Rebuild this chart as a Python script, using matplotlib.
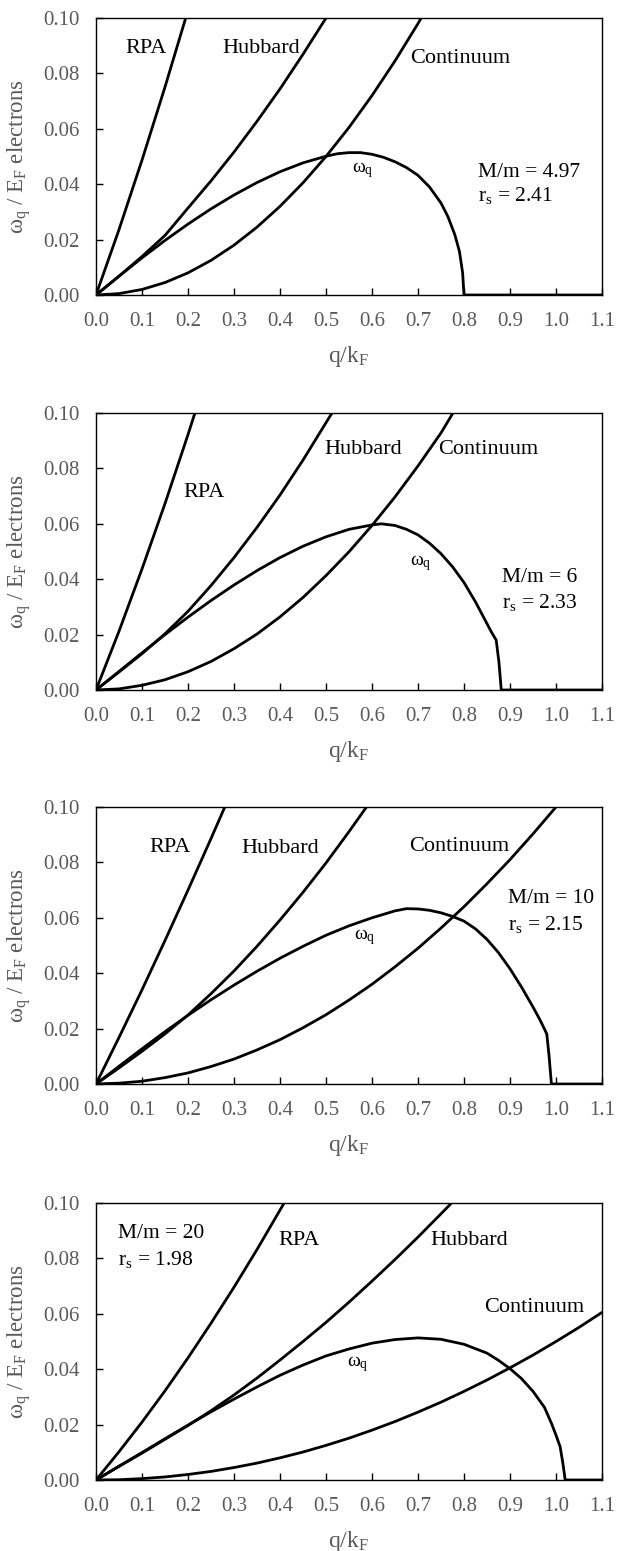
import matplotlib.pyplot as plt

plt.rcParams["font.family"] = ["Liberation Serif", "DejaVu Serif"]
plt.rcParams["mathtext.fontset"] = "custom"
plt.rcParams["mathtext.rm"] = "Liberation Serif"
plt.rcParams["mathtext.it"] = "Liberation Serif:italic"
plt.rcParams["mathtext.default"] = "regular"

# --- panel 1: M/m = 4.97 ---
rpa_q_1 = [0.0, 0.05, 0.10, 0.15, 0.195]
rpa_w_1 = [0.0, 0.0236, 0.0487, 0.0751, 0.100]
hub_q_1 = [0.0, 0.05, 0.10, 0.15, 0.20, 0.25, 0.30, 0.35, 0.40, 0.45, 0.50]
hub_w_1 = [0.0, 0.0068, 0.0139, 0.0215, 0.0314, 0.0412, 0.0516, 0.0627, 0.0744, 0.0869, 0.100]
con_q_1 = [0.0, 0.05, 0.10, 0.15, 0.20, 0.25, 0.30, 0.35, 0.40, 0.45, 0.50, 0.55, 0.60,
           0.65, 0.70, 0.707]
con_w_1 = [0.0, 0.0005, 0.002, 0.0045, 0.008, 0.0125, 0.018, 0.0245, 0.032, 0.0405, 0.050,
           0.0605, 0.072, 0.0845, 0.098, 0.100]
wq_q_1 = [0.0, 0.05, 0.10, 0.15, 0.20, 0.25, 0.30, 0.35, 0.40, 0.45, 0.50, 0.525, 0.55,
          0.575, 0.60, 0.625, 0.65, 0.675, 0.70, 0.725, 0.75, 0.765, 0.78, 0.79, 0.797,
          0.80, 1.10]
wq_w_1 = [0.0, 0.0068, 0.0134, 0.0197, 0.0256, 0.0311, 0.0361, 0.0406, 0.0445, 0.0477,
          0.0501, 0.0510, 0.0514, 0.0514, 0.0508, 0.0497, 0.0481, 0.0460, 0.0432, 0.0390,
          0.0332, 0.0283, 0.0218, 0.0158, 0.008, 0.0, 0.0]

# --- panel 2: M/m = 6 ---
rpa_q_2 = [0.0, 0.05, 0.10, 0.15, 0.20, 0.215]
rpa_w_2 = [0.0, 0.0212, 0.0437, 0.0673, 0.0922, 0.100]
hub_q_2 = [0.0, 0.05, 0.10, 0.15, 0.20, 0.25, 0.30, 0.35, 0.40, 0.45, 0.50, 0.513]
hub_w_2 = [0.0, 0.0065, 0.0131, 0.0203, 0.0284, 0.0377, 0.0478, 0.0587, 0.0704, 0.083,
           0.0965, 0.100]
con_q_2 = [0.0, 0.05, 0.10, 0.15, 0.20, 0.25, 0.30, 0.35, 0.40, 0.45, 0.50, 0.55, 0.60,
           0.65, 0.70, 0.75, 0.776]
con_w_2 = [0.0, 0.0004, 0.0017, 0.0037, 0.0066, 0.0103, 0.0149, 0.0202, 0.0264, 0.0334,
           0.0413, 0.0499, 0.0594, 0.0697, 0.0809, 0.0928, 0.100]
wq_q_2 = [0.0, 0.05, 0.10, 0.15, 0.20, 0.25, 0.30, 0.35, 0.40, 0.45, 0.50, 0.55, 0.60,
          0.62, 0.65, 0.675, 0.70, 0.725, 0.75, 0.775, 0.80, 0.825, 0.845, 0.86, 0.87,
          0.876, 0.881, 1.10]
wq_w_2 = [0.0, 0.0067, 0.0134, 0.0200, 0.0263, 0.0323, 0.0379, 0.0431, 0.0478, 0.0519,
          0.0553, 0.0580, 0.0596, 0.0600, 0.0594, 0.0580, 0.0560, 0.0530, 0.0492, 0.0445,
          0.0388, 0.0318, 0.0255, 0.0208, 0.018, 0.010, 0.0, 0.0]

# --- panel 3: M/m = 10 ---
rpa_q_3 = [0.0, 0.05, 0.10, 0.15, 0.20, 0.25, 0.28]
rpa_w_3 = [0.0, 0.0168, 0.0340, 0.0518, 0.0700, 0.0886, 0.100]
hub_q_3 = [0.0, 0.05, 0.10, 0.15, 0.20, 0.25, 0.30, 0.35, 0.40, 0.45, 0.50, 0.55, 0.588]
hub_w_3 = [0.0, 0.0058, 0.0118, 0.0181, 0.0249, 0.0326, 0.0408, 0.0497, 0.0592, 0.0692,
           0.0798, 0.0911, 0.100]
con_q_3 = [0.0, 0.05, 0.10, 0.15, 0.20, 0.25, 0.30, 0.35, 0.40, 0.45, 0.50, 0.55, 0.60,
           0.65, 0.70, 0.75, 0.80, 0.85, 0.90, 0.95, 1.00]
con_w_3 = [0.0, 0.0003, 0.001, 0.0023, 0.004, 0.0063, 0.009, 0.0123, 0.016, 0.0203, 0.025,
           0.0303, 0.036, 0.0423, 0.049, 0.0563, 0.064, 0.0723, 0.081, 0.0903, 0.100]
wq_q_3 = [0.0, 0.05, 0.10, 0.15, 0.20, 0.25, 0.30, 0.35, 0.40, 0.45, 0.50, 0.55, 0.60,
          0.65, 0.675, 0.70, 0.725, 0.75, 0.775, 0.80, 0.825, 0.85, 0.875, 0.90, 0.925,
          0.95, 0.965, 0.975, 0.98, 0.985, 0.99, 1.10]
wq_w_3 = [0.0, 0.0064, 0.0127, 0.0189, 0.0248, 0.0304, 0.0357, 0.0407, 0.0454, 0.0497,
          0.0537, 0.0571, 0.0600, 0.0625, 0.0633, 0.0632, 0.0627, 0.0618, 0.0605, 0.0588,
          0.0560, 0.0522, 0.0474, 0.0416, 0.0350, 0.0278, 0.0232, 0.0198, 0.0180, 0.010,
          0.0, 0.0]

# --- panel 4: M/m = 20 ---
rpa_q_4 = [0.0, 0.05, 0.10, 0.15, 0.20, 0.25, 0.30, 0.35, 0.409]
rpa_w_4 = [0.0, 0.0102, 0.0209, 0.0322, 0.0441, 0.0566, 0.0696, 0.0832, 0.100]
hub_q_4 = [0.0, 0.05, 0.10, 0.15, 0.20, 0.25, 0.30, 0.35, 0.40, 0.45, 0.50, 0.55, 0.60,
           0.65, 0.70, 0.75, 0.773]
hub_w_4 = [0.0, 0.0049, 0.0097, 0.0147, 0.0197, 0.0250, 0.0307, 0.0368, 0.0433, 0.0500,
           0.0569, 0.0642, 0.0718, 0.0796, 0.0877, 0.0961, 0.100]
con_q_4 = [0.0, 0.05, 0.10, 0.15, 0.20, 0.25, 0.30, 0.35, 0.40, 0.45, 0.50, 0.55, 0.60,
           0.65, 0.70, 0.75, 0.80, 0.85, 0.90, 0.95, 1.00, 1.05, 1.10]
con_w_4 = [0.0, 0.0001, 0.0005, 0.0011, 0.002, 0.0031, 0.0045, 0.0061, 0.008, 0.0101,
           0.0125, 0.0151, 0.018, 0.0211, 0.0245, 0.0281, 0.032, 0.0361, 0.0405, 0.0451,
           0.050, 0.0551, 0.0605]
wq_q_4 = [0.0, 0.05, 0.10, 0.15, 0.20, 0.25, 0.30, 0.35, 0.40, 0.45, 0.50, 0.55, 0.60,
          0.65, 0.70, 0.75, 0.80, 0.85, 0.875, 0.90, 0.925, 0.95, 0.975, 0.99, 1.00,
          1.009, 1.015, 1.02, 1.10]
wq_w_4 = [0.0, 0.0050, 0.0099, 0.0149, 0.0198, 0.0246, 0.0292, 0.0336, 0.0378, 0.0415,
          0.0448, 0.0473, 0.0494, 0.0507, 0.0513, 0.0508, 0.0490, 0.0458, 0.0432, 0.0402,
          0.0366, 0.0320, 0.0262, 0.0205, 0.0162, 0.0120, 0.006, 0.0, 0.0]

mass_labels = ["M/m = 4.97", "M/m = 6", "M/m = 10", "M/m = 20"]
rs_labels = [r"r$_s$ = 2.41", r"r$_s$ = 2.33", r"r$_s$ = 2.15", r"r$_s$ = 1.98"]

x_ticks = [0.0, 0.1, 0.2, 0.3, 0.4, 0.5, 0.6, 0.7, 0.8, 0.9, 1.0, 1.1]
y_ticks = [0.0, 0.02, 0.04, 0.06, 0.08, 0.10]

_GRAY = "#595959"

panels = [
    (rpa_q_1, rpa_w_1, hub_q_1, hub_w_1, con_q_1, con_w_1, wq_q_1, wq_w_1),
    (rpa_q_2, rpa_w_2, hub_q_2, hub_w_2, con_q_2, con_w_2, wq_q_2, wq_w_2),
    (rpa_q_3, rpa_w_3, hub_q_3, hub_w_3, con_q_3, con_w_3, wq_q_3, wq_w_3),
    (rpa_q_4, rpa_w_4, hub_q_4, hub_w_4, con_q_4, con_w_4, wq_q_4, wq_w_4),
]

# label placement per panel: RPA, Hubbard, Continuum, omega_q, M/m, r_s
label_pos = [
    [(0.063, 0.089), (0.274, 0.089), (0.683, 0.0855), (0.556, 0.045), (0.830, 0.0442), (0.830, 0.0359)],
    [(0.189, 0.0714), (0.496, 0.087), (0.744, 0.087), (0.683, 0.046), (0.883, 0.0406), (0.883, 0.0315)],
    [(0.117, 0.0853), (0.317, 0.085), (0.680, 0.0856), (0.561, 0.053), (0.896, 0.067), (0.896, 0.0576)],
    [(0.396, 0.0866), (0.726, 0.0866), (0.843, 0.0623), (0.546, 0.042), (0.048, 0.0891), (0.048, 0.0797)],
]

ax_tops = [18, 413, 807, 1203]
fig_w, fig_h = 626, 1551


def _main():
    fig = plt.figure(figsize=(fig_w / 100, fig_h / 100), dpi=100)
    for i, (rq, rw, hq, hw, cq, cw, wq, ww) in enumerate(panels):
        top = ax_tops[i]
        ax = fig.add_axes([96 / fig_w, 1 - (top + 277) / fig_h, 506 / fig_w, 277 / fig_h])
        for q, w in ((rq, rw), (hq, hw), (cq, cw), (wq, ww)):
            ax.plot(q, w, color="black", lw=2.0, solid_joinstyle="round",
                    solid_capstyle="round")
        ax.set_xlim(0, 1.1)
        ax.set_ylim(0, 0.1)
        ax.set_xticks(x_ticks)
        ax.set_yticks(y_ticks)
        ax.set_xticklabels(["%.1f" % v for v in x_ticks])
        ax.set_yticklabels(["%.2f" % v for v in y_ticks])
        ax.tick_params(direction="in", length=5, width=1, colors="black",
                       labelcolor=_GRAY, labelsize=15)
        ax.tick_params(axis="x", pad=12.5)
        ax.tick_params(axis="y", pad=12)
        for s in ax.spines.values():
            s.set_linewidth(1.0)
        ax.set_xlabel(r"q/k$_F$", fontsize=17, color=_GRAY, labelpad=9)
        ax.set_ylabel(r"$\omega_q$ / E$_F$ electrons", fontsize=16.5, color=_GRAY, labelpad=7)

        pos = label_pos[i]
        ax.text(pos[0][0], pos[0][1], "RPA", fontsize=16, va="center", ha="left")
        ax.text(pos[1][0], pos[1][1], "Hubbard", fontsize=16, va="center", ha="left")
        ax.text(pos[2][0], pos[2][1], "Continuum", fontsize=16, va="center", ha="left")
        ax.text(pos[3][0], pos[3][1], r"$\omega_q$", fontsize=14, va="center", ha="left")
        ax.text(pos[4][0], pos[4][1], mass_labels[i], fontsize=15.5, va="center", ha="left")
        ax.text(pos[5][0], pos[5][1], rs_labels[i], fontsize=15.5, va="center", ha="left")

    fig.savefig("out.png", dpi=100)


if __name__ == "__main__":
    _main()
